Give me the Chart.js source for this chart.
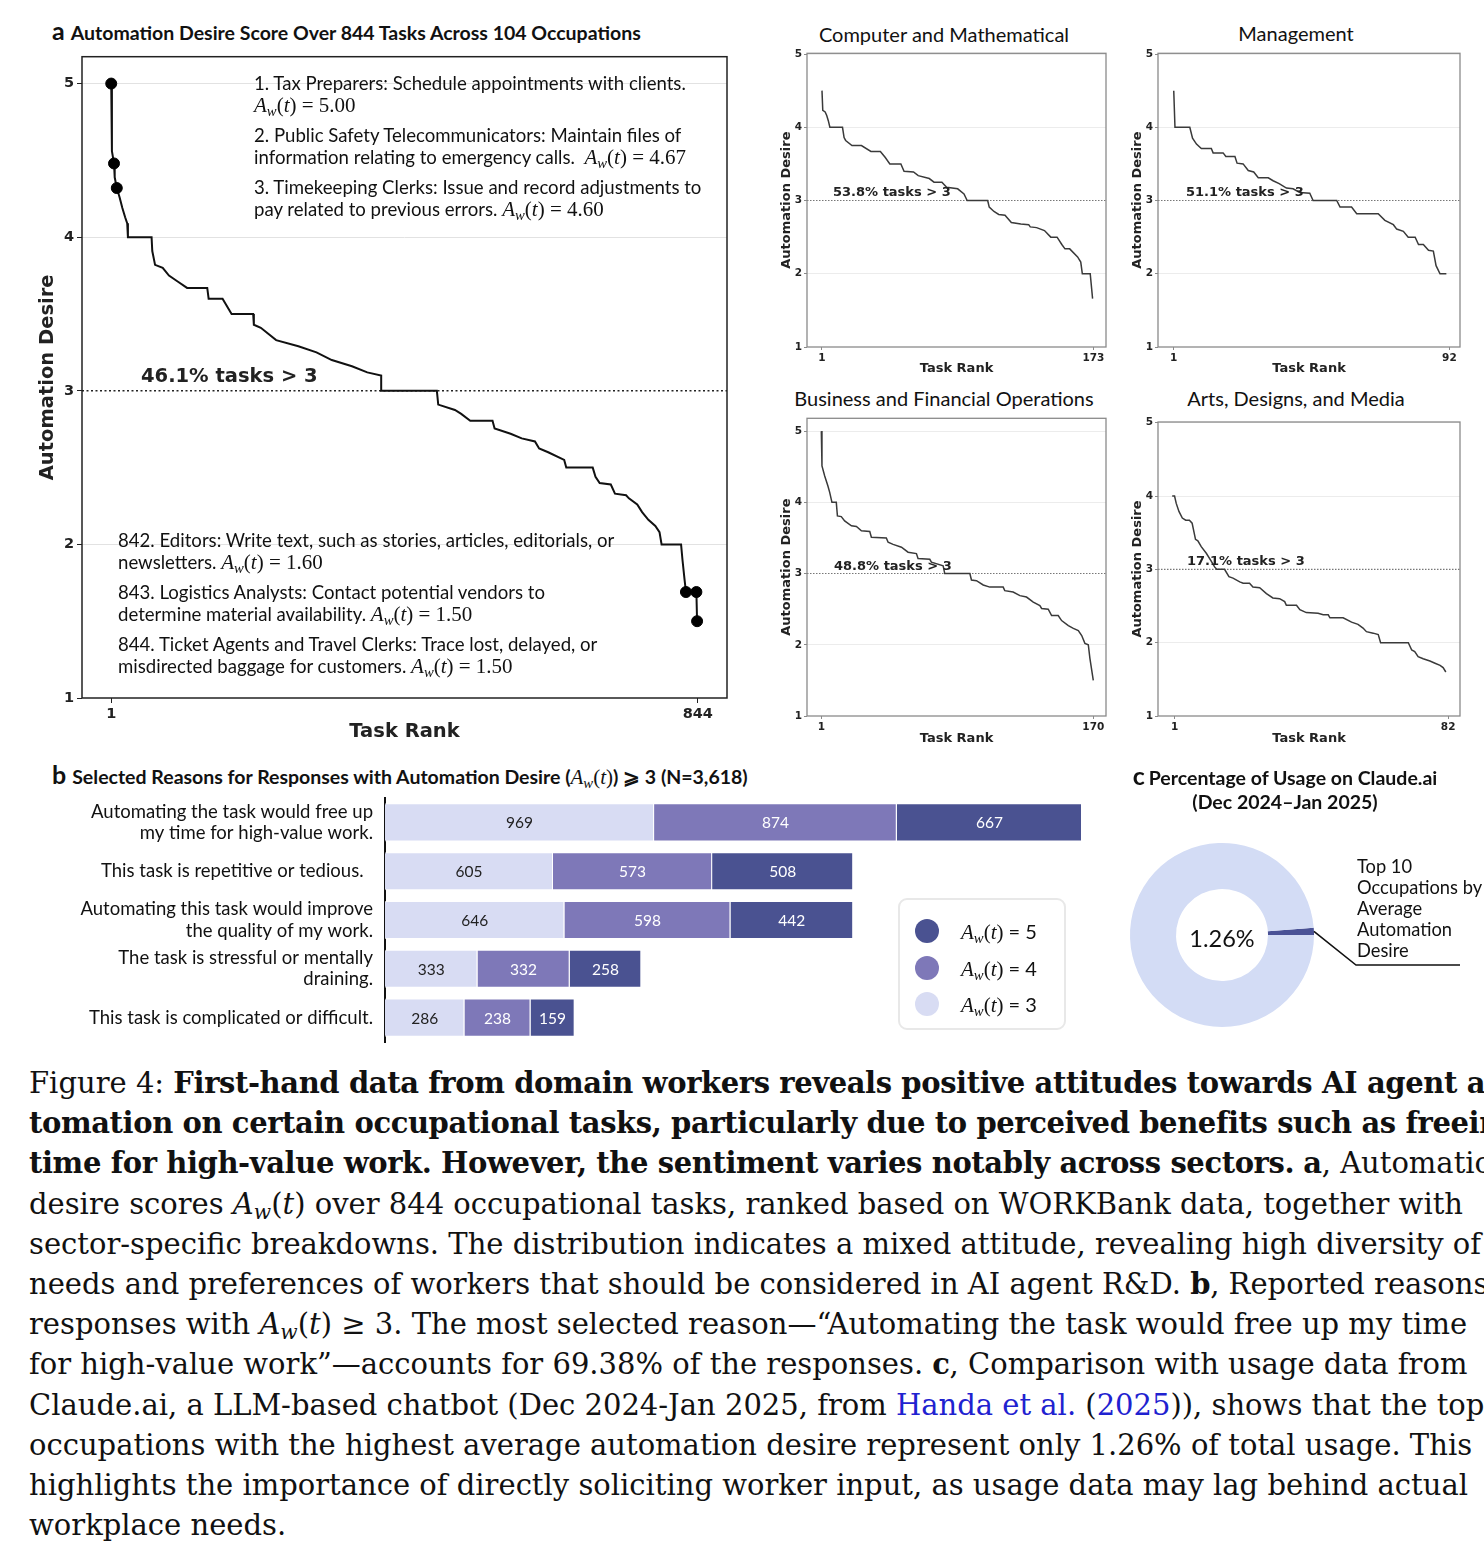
<!DOCTYPE html>
<html><head><meta charset="utf-8">
<script src="https://cdn.jsdelivr.net/npm/chart.js@4.4.1/dist/chart.umd.min.js"></script>
<style>
html,body{margin:0;padding:0;background:#fff;}
body{width:1484px;height:1558px;position:relative;overflow:hidden;font-family:Lato,sans-serif;color:#111;}
.box{position:absolute;}
.t{position:absolute;white-space:nowrap;line-height:22px;}
.ann{font-family:Lato,sans-serif;font-size:18.6px;color:#111;}
.mth{font-family:"Liberation Serif",serif;font-size:21px;}
.mth i{font-style:italic;}
.mth sub{font-size:70%;vertical-align:-0.3em;line-height:0;}
.pct{font-family:"DejaVu Sans",sans-serif;font-weight:bold;color:#222;}
.ttl{position:absolute;white-space:nowrap;font-family:Lato,sans-serif;font-weight:bold;font-size:19.5px;line-height:26px;}
.ttl .lt{font-size:25px;margin-right:6px;}
.ttl .mth{font-size:21px;font-weight:normal;}
.sub{position:absolute;white-space:nowrap;text-align:center;font-family:Lato,sans-serif;font-size:20px;line-height:24px;width:400px;}
.legend{position:absolute;border:2px solid #e8e8e8;border-radius:9px;box-sizing:border-box;}
.dot{position:absolute;width:24px;height:24px;border-radius:50%;}
.cap{position:absolute;left:29px;white-space:nowrap;font-family:"DejaVu Serif",serif;font-size:29px;line-height:40px;color:#111;}
.cap b{font-weight:bold;letter-spacing:-0.4px;}
.cap .bl{color:#1f22d0;}
.cap sub{font-size:70%;vertical-align:-0.25em;line-height:0;}
</style></head>
<body>
<div id="root"></div>
<script>
// ---------------- DATA ----------------
const mainYTicks = [1, 2, 3, 4, 5];
const mainXTicks = [1, 844];
const threshold = 3;
const mainSeries = [[1,5.0],[2,4.56],[5,4.48],[6,4.39],[9,4.32],[13,4.26],[17,4.19],[21,4.13],[24,4.09],[25,4.0],[59,4.0],[60,3.91],[64,3.82],[75,3.80],[84,3.75],[97,3.71],[110,3.67],[139,3.67],[141,3.60],[161,3.60],[174,3.50],[205,3.50],[206,3.43],[216,3.41],[238,3.33],[270,3.29],[296,3.25],[318,3.20],[347,3.16],[369,3.12],[389,3.10],[389,3.0],[469,3.0],[471,2.91],[495,2.875],[504,2.85],[517,2.805],[549,2.805],[552,2.755],[575,2.72],[591,2.69],[610,2.67],[616,2.625],[629,2.60],[652,2.55],[655,2.50],[693,2.50],[697,2.44],[703,2.40],[719,2.39],[725,2.33],[741,2.32],[745,2.30],[757,2.26],[764,2.21],[773,2.16],[783,2.12],[789,2.08],[792,2.0],[820,2.0],[822,1.90],[825,1.77],[827,1.69],[842,1.69],[843,1.50]];
const mainMarkers = [[1,5.0],[5,4.48],[9,4.32],[827,1.69],[842,1.69],[843,1.50]];

const compSeries = [[1,4.5],[1.5,4.23],[3,4.21],[4,4.16],[5,4.09],[6,4.0],[14,4.0],[15,3.86],[16,3.82],[20,3.75],[26,3.75],[32,3.67],[38,3.67],[41,3.59],[44,3.5],[51,3.5],[53,3.40],[59,3.39],[62,3.34],[69,3.30],[72,3.25],[77,3.25],[80,3.18],[87,3.16],[91,3.09],[93,3.0],[106,3.0],[107,2.91],[110,2.85],[113,2.81],[117,2.80],[121,2.70],[127,2.68],[132,2.67],[133,2.64],[137,2.63],[142,2.59],[146,2.5],[150,2.5],[153,2.40],[155,2.34],[158,2.34],[163,2.23],[165,2.16],[166,2.0],[171,2.0],[172.5,1.66]];
const mgmtSeries = [[1,4.5],[1.4,4.0],[6.3,4.0],[7.2,3.85],[8.5,3.77],[10.1,3.71],[13.4,3.71],[14,3.65],[17.3,3.65],[18.2,3.6],[21.2,3.6],[21.9,3.51],[23.9,3.5],[25.6,3.41],[27.4,3.39],[28.9,3.31],[32.2,3.31],[33.8,3.27],[35.8,3.23],[38.2,3.17],[40.4,3.16],[42.6,3.11],[45.9,3.10],[47,3.0],[54.8,3.0],[55.9,2.91],[59.7,2.91],[61.4,2.82],[68.5,2.82],[70.7,2.73],[73.5,2.67],[74.6,2.61],[76.8,2.58],[78.4,2.5],[80.7,2.5],[81.8,2.40],[83.4,2.40],[85.1,2.32],[86.7,2.31],[87.6,2.11],[88.9,2.0],[91,2.0]];
const busSeries = [[1,5.0],[1.4,4.51],[3.1,4.37],[5.1,4.23],[6.2,4.14],[7.6,4.0],[10.3,4.0],[11,3.81],[13.4,3.80],[15.5,3.74],[19.7,3.67],[22.8,3.66],[25.9,3.60],[31.1,3.59],[32.1,3.51],[41.4,3.50],[42.5,3.44],[45.6,3.41],[50.8,3.37],[54.9,3.30],[60.1,3.28],[61.1,3.21],[68.4,3.20],[69.4,3.16],[76.7,3.11],[77.7,3.0],[93.3,3.0],[94.3,2.91],[97.4,2.90],[101.6,2.84],[105.7,2.81],[114,2.81],[115,2.76],[120.2,2.74],[124.4,2.69],[128.5,2.67],[132.7,2.60],[136.8,2.55],[137.9,2.51],[142,2.50],[144.1,2.41],[148.2,2.41],[150.3,2.34],[154.5,2.27],[157.6,2.23],[160.7,2.20],[162.8,2.13],[164.8,2.02],[166.9,2.0],[167.9,1.81],[170,1.50]];
const artsSeries = [[0.3,4.0],[1,4.0],[1.5,3.9],[2.3,3.79],[3.3,3.70],[4.3,3.67],[5.4,3.67],[6.2,3.63],[7.2,3.41],[7.9,3.39],[8.9,3.31],[10.4,3.22],[11.9,3.11],[12.9,3.03],[13.5,3.0],[15.8,3.0],[17.1,2.90],[18.3,2.88],[20.3,2.83],[21.3,2.81],[23.2,2.81],[24.2,2.76],[26.2,2.75],[28.2,2.67],[30.1,2.61],[32.1,2.60],[33.6,2.56],[34.1,2.51],[37.1,2.51],[38.1,2.45],[40,2.41],[43.5,2.40],[45,2.38],[46.5,2.38],[47,2.34],[50.9,2.34],[53.4,2.28],[55.3,2.25],[56.8,2.20],[57.8,2.15],[59.8,2.13],[61.3,2.11],[62,2.0],[70.2,2.0],[71.2,1.90],[72.1,1.88],[73.1,1.81],[74.6,1.78],[76.6,1.75],[78.1,1.72],[79.6,1.69],[80.5,1.66],[81.3,1.60]];

const reasons = [["Automating the task would free up","my time for high-value work."],"This task is repetitive or tedious.  ",["Automating this task would improve","the quality of my work."],["The task is stressful or mentally","draining."],"This task is complicated or difficult."];
const aw3 = [969, 605, 646, 333, 286];
const aw4 = [874, 573, 598, 332, 238];
const aw5 = [667, 508, 442, 258, 159];

const usageLabels = ["Top 10 Occupations by Average Automation Desire", "Other"];
const usageShare = [1.26, 98.74];

// ---------------- HELPERS ----------------
Chart.defaults.font.family = 'Lato';
const root = document.getElementById('root');
function el(html){ root.insertAdjacentHTML('beforeend', html); }
const AW = '<span class="mth"><i>A</i><sub><i>w</i></sub>(<i>t</i>)</span>';
function mkCanvas(id, b){
  el(`<div class="box" style="left:${b.l}px;top:${b.t}px;width:${b.w}px;height:${b.h}px;"><canvas id="${id}"></canvas></div>`);
  return document.getElementById(id);
}
const pts = s => s.map(p => ({x:p[0], y:p[1]}));
function frame(color, w){
  return {id:'frame', afterDatasetsDraw(c){
    const a=c.chartArea, x=c.ctx; x.save(); x.strokeStyle=color; x.lineWidth=w;
    x.strokeRect(a.left, a.top, a.right-a.left, a.bottom-a.top); x.restore();
  }};
}

function rankChart(id, b, p, series, markers, xTicks, xMin, xMax, yMax, st){
  const cv = mkCanvas(id, b);
  const ds = [
    {data: pts(series), borderColor: st.line, borderWidth: st.lw, pointRadius: 0, tension: 0, order: 2},
    {data: [{x:xMin,y:threshold},{x:xMax,y:threshold}], borderColor: st.dotC, borderWidth: st.dotW, borderDash: st.dash, pointRadius: 0, order: 3}
  ];
  if (markers) ds.push({data: pts(markers), showLine:false, pointRadius:5.5, pointBackgroundColor:'#000', pointBorderColor:'#000', order:1});
  return new Chart(cv, {
    type:'line',
    data:{datasets: ds},
    options:{
      responsive:true, maintainAspectRatio:false, animation:false,
      layout:{padding:{top:p.t-b.t, right:b.l+b.w-p.r, left:0, bottom:0}},
      plugins:{legend:{display:false}, tooltip:{enabled:false}},
      scales:{
        x:{type:'linear', min:xMin, max:xMax,
          afterFit: s => { s.height = b.t+b.h-p.b; },
          afterBuildTicks: s => { s.ticks = xTicks.map(v => ({value:v})); },
          ticks:{font:{family:'DejaVu Sans', weight:'bold', size:st.tick}, color:'#222', padding:st.tpad, maxRotation:0, autoSkip:false},
          grid:{drawOnChartArea:false, tickLength:st.tlen, tickColor:st.frame, tickWidth:1},
          border:{display:false},
          title:{display:true, text:'Task Rank', color:'#222', font:{family:'DejaVu Sans', weight:'bold', size:st.axt}, padding:{top:0,bottom:4}}
        },
        y:{type:'linear', min:1, max:yMax,
          afterFit: s => { s.width = p.l-b.l; },
          afterBuildTicks: s => { s.ticks = mainYTicks.map(v => ({value:v})); },
          ticks:{font:{family:'DejaVu Sans', weight:'bold', size:st.tick}, color:'#222', padding:st.tpad, autoSkip:false},
          grid:{color: c => (c.tick && [2,4,5].includes(c.tick.value)) ? st.grid : 'rgba(0,0,0,0)', lineWidth:1, tickLength:st.tlen, tickColor:st.frame, tickWidth:1},
          border:{display:false},
          title:{display:true, text:'Automation Desire', color:'#222', font:{family:'DejaVu Sans', weight:'bold', size:st.axt}, padding:{top:4,bottom:0}}
        }
      }
    },
    plugins:[frame(st.frame, st.fw)]
  });
}

// ---------------- PANEL A ----------------
el(`<div class="ttl" style="left:52px;top:17px;"><span class="lt">a</span>Automation Desire Score Over 844 Tasks Across 104 Occupations</div>`);
rankChart('cMain', {l:32,t:45,w:708,h:703}, {l:82,t:56,r:727,b:698}, mainSeries, mainMarkers, mainXTicks, -41, 886, 5.175,
  {line:'#111', lw:2, dotC:'#222', dotW:1.6, dash:[2,2.5], tick:14.5, tpad:3, tlen:5, axt:19.5, grid:'#e2e2e2', frame:'#222', fw:1.5});
const annTop = [
  [83, '1. Tax Preparers: Schedule appointments with clients.'],
  [105, AW + '<span class="mth"> = 5.00</span>'],
  [135, '2. Public Safety Telecommunicators: Maintain files of'],
  [157, 'information relating to emergency calls.&nbsp; ' + AW + '<span class="mth"> = 4.67</span>'],
  [187, '3. Timekeeping Clerks: Issue and record adjustments to'],
  [209, 'pay related to previous errors. ' + AW + '<span class="mth"> = 4.60</span>']
];
annTop.forEach(a => el(`<div class="t ann" style="left:254px;top:${a[0]-11}px;">${a[1]}</div>`));
const annBot = [
  [540, '842. Editors: Write text, such as stories, articles, editorials, or'],
  [562, 'newsletters. ' + AW + '<span class="mth"> = 1.60</span>'],
  [592, '843. Logistics Analysts: Contact potential vendors to'],
  [614, 'determine material availability. ' + AW + '<span class="mth"> = 1.50</span>'],
  [644, '844. Ticket Agents and Travel Clerks: Trace lost, delayed, or'],
  [666, 'misdirected baggage for customers. ' + AW + '<span class="mth"> = 1.50</span>']
];
annBot.forEach(a => el(`<div class="t ann" style="left:118px;top:${a[0]-11}px;">${a[1]}</div>`));
el(`<div class="t pct" style="left:141px;top:${376-12}px;font-size:19.5px;line-height:24px;">46.1% tasks &gt; 3</div>`);

// ---------------- SMALL CHARTS ----------------
const sst = {line:'#3a3a3a', lw:1.5, dotC:'#777', dotW:1.1, dash:[1.5,1.5], tick:10.5, tpad:2, tlen:3, axt:13, grid:'#ececec', frame:'#8a8a8a', fw:1.3};
el(`<div class="sub" style="left:${944-200}px;top:22px;">Computer and Mathematical</div>`);
rankChart('cComp', {l:775,t:45,w:337,h:335}, {l:807,t:52,r:1106,b:347}, compSeries, null, [1,173], -8.5, 181, 5.01, sst);
el(`<div class="t pct" style="left:833px;top:${192-8}px;font-size:13px;line-height:16px;">53.8% tasks &gt; 3</div>`);

el(`<div class="sub" style="left:${1296-200}px;top:21px;">Management</div>`);
rankChart('cMgmt', {l:1126,t:45,w:340,h:335}, {l:1158,t:53,r:1460,b:347}, mgmtSeries, null, [1,92], -4.2, 95.5, 5.01, sst);
el(`<div class="t pct" style="left:1186px;top:${192-8}px;font-size:13px;line-height:16px;">51.1% tasks &gt; 3</div>`);

el(`<div class="sub" style="left:${944-200}px;top:386px;">Business and Financial Operations</div>`);
rankChart('cBus', {l:775,t:410,w:337,h:340}, {l:807,t:417,r:1106,b:716}, busSeries, null, [1,170], -7.9, 177.9, 5.18, sst);
el(`<div class="t pct" style="left:834px;top:${566-8}px;font-size:13px;line-height:16px;">48.8% tasks &gt; 3</div>`);

el(`<div class="sub" style="left:${1296-200}px;top:386px;">Arts, Designs, and Media</div>`);
rankChart('cArts', {l:1126,t:410,w:340,h:340}, {l:1158,t:422,r:1460,b:716}, artsSeries, null, [1,82], -3.9, 85.5, 5.01, sst);
el(`<div class="t pct" style="left:1187px;top:${561-8}px;font-size:13px;line-height:16px;">17.1% tasks &gt; 3</div>`);

// ---------------- PANEL B ----------------
el(`<div class="ttl" style="left:52px;top:761px;"><span class="lt">b</span>Selected Reasons for Responses with Automation Desire (${AW}) ⩾ 3 (N=3,618)</div>`);
const barLabels = {id:'barLabels', afterDatasetsDraw(chart){
  const ctx = chart.ctx; ctx.save(); ctx.font = '15.5px Lato'; ctx.textAlign='center'; ctx.textBaseline='middle';
  chart.data.datasets.forEach((ds, di) => {
    chart.getDatasetMeta(di).data.forEach((bar, i) => {
      const pr = bar.getProps(['x','y','base'], true);
      ctx.fillStyle = ds.labelColor;
      ctx.fillText(String(ds.data[i]), (pr.x+pr.base)/2, pr.y+1);
    });
  });
  ctx.restore();
}};
const bb = {l:20,t:790,w:1070,h:260}, bp = {l:385,t:798,r:1082,b:1042};
new Chart(mkCanvas('cBar', bb), {
  type:'bar',
  data:{labels: reasons, datasets:[
    {label:'Aw(t) = 3', data:aw3, backgroundColor:'#d8dcf3', labelColor:'#222', borderColor:'rgba(255,255,255,0.7)', borderWidth:1},
    {label:'Aw(t) = 4', data:aw4, backgroundColor:'#7e78b8', labelColor:'#fff', borderColor:'rgba(255,255,255,0.7)', borderWidth:1},
    {label:'Aw(t) = 5', data:aw5, backgroundColor:'#4a5291', labelColor:'#fff', borderColor:'rgba(255,255,255,0.7)', borderWidth:1}
  ]},
  options:{
    indexAxis:'y', responsive:true, maintainAspectRatio:false, animation:false,
    layout:{padding:{top:bp.t-bb.t, right:bb.l+bb.w-bp.r, bottom:bb.t+bb.h-bp.b, left:0}},
    datasets:{bar:{barPercentage:0.78, categoryPercentage:1}},
    plugins:{legend:{display:false}, tooltip:{enabled:false}},
    scales:{
      x:{stacked:true, min:0, max:2510, display:false},
      y:{stacked:true,
        afterFit: s => { s.width = bp.l-bb.l; s.paddingTop = 0; s.paddingBottom = 0; s.paddingLeft = 0; s.paddingRight = 0; },
        ticks:{font:{family:'Lato', size:18.5, lineHeight:1.15}, color:'#111', padding:12},
        grid:{drawOnChartArea:false, drawTicks:false},
        border:{display:true, color:'#111', width:2}
      }
    }
  },
  plugins:[barLabels]
});
el(`<div class="legend" style="left:898px;top:898px;width:168px;height:132px;"></div>`);
[['#4a5291',931,'5'],['#7e78b8',968,'4'],['#d8dcf3',1004,'3']].forEach(l => {
  el(`<div class="dot" style="left:${927-12}px;top:${l[1]-12}px;background:${l[0]};"></div>`);
  el(`<div class="t" style="left:961px;top:${l[1]-13}px;line-height:26px;">${AW}<span style="font-family:Lato;font-size:20px;"> = ${l[2]}</span></div>`);
});

// ---------------- PANEL C ----------------
el(`<div class="ttl" style="left:1085px;top:762px;width:400px;text-align:center;"><span class="lt" style="margin-right:4px;">c</span>Percentage of Usage on Claude.ai</div>`);
el(`<div class="ttl" style="left:1085px;top:789px;width:400px;text-align:center;">(Dec 2024–Jan 2025)</div>`);
const leader = {id:'leader', afterDatasetsDraw(chart){
  const arc = chart.getDatasetMeta(0).data[0];
  const pr = arc.getProps(['x','y','startAngle','endAngle','outerRadius'], true);
  const mid = (pr.startAngle+pr.endAngle)/2;
  const ctx = chart.ctx; ctx.save(); ctx.strokeStyle='#111'; ctx.lineWidth=1.6;
  ctx.beginPath(); ctx.moveTo(pr.x+Math.cos(mid)*pr.outerRadius, pr.y+Math.sin(mid)*pr.outerRadius);
  ctx.lineTo(236, 135); ctx.lineTo(340, 135); ctx.stroke(); ctx.restore();
}};
const db = {l:1120,t:830,w:364,h:210};
new Chart(mkCanvas('cDonut', db), {
  type:'doughnut',
  data:{labels: usageLabels, datasets:[{data: usageShare, backgroundColor:['#4a5296','#d3dcf5'], borderWidth:0}]},
  options:{
    responsive:true, maintainAspectRatio:false, animation:false, cutout:'50%', rotation: 90 - usageShare[0]*3.6,
    layout:{padding:{left:10, top:13, right:170, bottom:13}},
    plugins:{legend:{display:false}, tooltip:{enabled:false}}
  },
  plugins:[leader]
});
el(`<div class="t" style="left:1122px;width:200px;text-align:center;top:${938-14}px;font-family:Lato;font-size:23.5px;line-height:28px;">1.26%</div>`);
['Top 10','Occupations by','Average','Automation','Desire'].forEach((s,i) => {
  el(`<div class="t" style="left:1357px;top:${866+21*i-11}px;font-family:Lato;font-size:18.3px;">${s}</div>`);
});

// ---------------- CAPTION ----------------
const AWc = '<i>A<sub>w</sub></i>(<i>t</i>)';
const capLines = [
  'Figure 4: <b>First-hand data from domain workers reveals positive attitudes towards AI agent au-</b>',
  '<b>tomation on certain occupational tasks, particularly due to perceived benefits such as freeing up my</b>',
  '<b>time for high-value work. However, the sentiment varies notably across sectors.</b> <b>a</b>, Automation',
  'desire scores ' + AWc + ' over 844 occupational tasks, ranked based on WORKBank data, together with',
  'sector-specific breakdowns. The distribution indicates a mixed attitude, revealing high diversity of',
  'needs and preferences of workers that should be considered in AI agent R&amp;D. <b>b</b>, Reported reasons for',
  'responses with ' + AWc + ' ≥ 3. The most selected reason—“Automating the task would free up my time',
  'for high-value work”—accounts for 69.38% of the responses. <b>c</b>, Comparison with usage data from',
  'Claude.ai, a LLM-based chatbot (Dec 2024-Jan 2025, from <span class="bl">Handa et al.</span> (<span class="bl">2025</span>)), shows that the top 10',
  'occupations with the highest average automation desire represent only 1.26% of total usage. This',
  'highlights the importance of directly soliciting worker input, as usage data may lag behind actual',
  'workplace needs.'
];
capLines.forEach((s,i) => el(`<div class="cap" style="top:${1083 + i*40.2 - 20}px;">${s}</div>`));
</script>
</body></html>
